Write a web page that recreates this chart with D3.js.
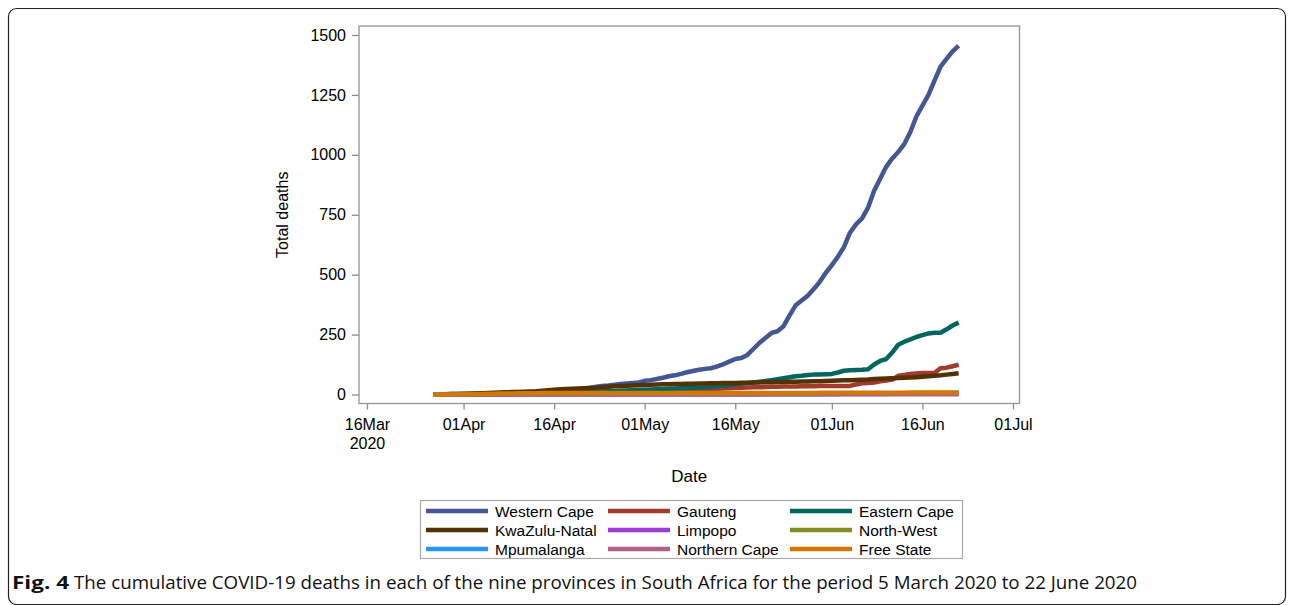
<!DOCTYPE html>
<html>
<head>
<meta charset="utf-8">
<script src="https://cdn.jsdelivr.net/npm/d3@7"></script>
<style>
  body { margin: 0; background: #fff; }
  svg { display: block; }
  .lbl { font-family: "Liberation Sans", Arial, sans-serif; fill: #000; }
  .cap { font-family: "Open Sans", "Noto Sans", sans-serif; fill: #111; }
</style>
</head>
<body>
<svg id="chart" width="1293" height="605"></svg>
<script>
// Daily cumulative deaths per province, 27 Mar 2020 .. 22 Jun 2020
const firstDay = "2020-03-27";
const lastDay = "2020-06-22";

const provinces = ["Western Cape", "Gauteng", "Eastern Cape", "KwaZulu-Natal", "Limpopo",
                   "North-West", "Mpumalanga", "Northern Cape", "Free State"];
const colors = ["#445694", "#A23A2E", "#01665E", "#543005", "#9D3CDB",
                "#7F8E1F", "#2597FA", "#B26084", "#D17800"];

const westernCape = [1,1,1,2,2, 2,3,3,3,4, 5,5,6,7,7, 8,9,10,11,12, 14,16,18,20,22,
  25,28,32,36,38, 41,44,46,48,50, 57,60,65,70,76, 80,86,93,98,103, 107,110,117,126,137,
  148,152,165,190,215, 236,257,264,285,330, 372,392,412,440,470, 508,540,575,615,675,
  710,735,780,850,900, 950,985,1012,1045,1095, 1160,1205,1250,1310,1368, 1400,1432,1455];
const gauteng = [0,0,0,1,1, 1,1,2,2,2, 3,3,3,4,4, 5,5,6,6,7, 7,8,8,9,9, 10,11,12,12,13,
  14,15,15,16,16, 17,17,18,18,19, 19,20,20,21,21, 22,23,24,25,26, 27,28,29,30,30,
  31,32,32,33,33, 33,34,34,34,35, 35,35,35,35,36, 42,47,48,50,55, 58,62,78,82,86,
  88,90,90,90,110, 112,118,124];
const easternCape = [0,0,0,0,0, 0,0,1,1,1, 2,3,3,4,4, 5,6,6,7,7, 8,8,9,10,10, 11,12,12,13,14,
  15,16,17,18,19, 20,21,22,23,24, 25,26,27,28,29, 30,32,34,37,40, 43,45,48,50,53,
  56,60,64,68,72, 76,78,81,83,84, 85,86,92,99,101, 102,103,105,125,140, 148,175,208,220,230,
  240,248,255,258,258, 272,288,300];
const kwaZuluNatal = [1,1,1,2,2, 3,3,4,5,6, 7,8,9,10,11, 12,13,14,16,18, 20,22,23,24,25,
  26,27,28,30,32, 34,35,37,38,39, 40,41,42,43,43, 44,44,45,45,46, 46,47,47,48,48,
  48,49,49,50,50, 51,51,52,52,53, 53,54,54,55,55, 56,57,58,59,60, 61,62,63,65,66,
  67,68,69,70,71, 72,74,76,78,80, 83,86,89];
const limpopo = [0,0,0,0,0, 0,0,0,0,0, 0,1,1,1,2, 2,2,2,2,2, 2,2,2,2,2, 2,2,2,2,2,
  3,3,3,3,3, 3,3,3,3,3, 3,3,3,3,3, 3,3,3,3,3, 4,4,4,4,4, 4,4,4,4,4, 4,4,4,4,4,
  4,4,4,4,4, 4,4,5,5,5, 5,5,5,5,5, 5,6,6,6,6, 6,6,6];
const northWest = [0,0,0,0,0, 0,0,0,0,0, 0,0,0,0,0, 0,0,0,0,0, 0,0,0,0,0, 0,0,0,0,0,
  1,1,1,1,1, 1,1,1,1,1, 1,1,1,1,1, 1,1,1,1,1, 2,2,2,2,2, 2,2,2,2,2, 2,2,2,2,2,
  3,3,3,3,3, 3,3,3,3,3, 3,3,3,3,3, 4,4,4,4,4, 4,4,4];
const mpumalanga = [0,0,0,0,0, 0,0,0,0,0, 0,0,0,0,0, 0,0,0,0,0, 0,0,0,0,0, 0,0,0,0,0,
  0,0,0,0,0, 0,0,0,0,0, 0,0,0,0,0, 0,0,0,0,0, 0,0,0,0,0, 1,1,1,1,1, 1,1,1,1,1,
  1,1,1,2,2, 2,2,2,2,2, 2,3,3,3,3, 3,3,3,3,4, 4,4,4];
const northernCape = [0,0,0,0,0, 0,0,0,0,0, 0,0,0,0,0, 0,0,0,0,0, 0,0,0,0,0, 0,0,0,0,0,
  0,0,0,0,0, 0,0,0,0,0, 0,0,0,0,0, 0,0,0,0,0, 0,0,0,1,1, 1,1,1,1,1, 1,1,1,1,1,
  1,1,1,1,1, 1,1,1,1,1, 1,1,1,1,1, 1,1,1,1,1, 1,1,1];
const freeState = [0,0,0,0,1, 1,1,2,2,3, 3,4,4,4,5, 5,5,5,6,6, 6,6,6,6,6, 6,6,6,6,6,
  6,6,6,6,6, 6,6,6,6,6, 6,6,6,6,6, 6,6,6,6,6, 6,6,6,6,6, 6,6,6,6,6, 6,6,6,6,7,
  7,7,7,7,7, 7,7,7,7,7, 7,7,7,7,8, 8,8,8,8,8, 8,8,8];

const seriesValues = [westernCape, gauteng, easternCape, kwaZuluNatal, limpopo,
                      northWest, mpumalanga, northernCape, freeState];

const yTicks = [0, 250, 500, 750, 1000, 1250, 1500];
const xTickDates = ["2020-03-16", "2020-04-01", "2020-04-16", "2020-05-01",
                    "2020-05-16", "2020-06-01", "2020-06-16", "2020-07-01"];

const parse = d3.utcParse("%Y-%m-%d");
const dates = d3.utcDay.range(parse(firstDay), d3.utcDay.offset(parse(lastDay), 1));

const svg = d3.select("#chart");

// Outer figure border
svg.append("rect")
  .attr("x", 8.5).attr("y", 8.5).attr("width", 1277).attr("height", 596)
  .attr("rx", 8).attr("ry", 8)
  .attr("fill", "none").attr("stroke", "#222").attr("stroke-width", 1.2);

// Plot area
const plotLeft = 359, plotRight = 1019.5, plotTop = 26, plotBottom = 403.5;
const dayMs = 864e5;
const x = d3.scaleUtc()
  .domain([new Date(parse("2020-03-16").getTime() - 1.32 * dayMs),
           new Date(parse("2020-07-01").getTime() + 1.08 * dayMs)])
  .range([plotLeft, plotRight]);
const y = d3.scaleLinear().domain([-37.5, 1537.5]).range([plotBottom, plotTop]);

const fmt = d3.utcFormat("%d%b");

// X axis
const xAxis = svg.append("g")
  .attr("transform", `translate(0,${plotBottom})`)
  .call(d3.axisBottom(x).tickValues(xTickDates.map(parse)).tickSize(6).tickPadding(9)
        .tickFormat(fmt));
xAxis.select(".domain").remove();
xAxis.selectAll(".tick line").attr("stroke", "#8c8c8c").attr("stroke-width", 1.3);
xAxis.selectAll(".tick text").attr("class", "lbl").style("font-size", "16px");
xAxis.select(".tick text").each(function () {
  d3.select(this).append("tspan").attr("x", 0).attr("dy", "1.2em").text("2020");
});

// Y axis
const yAxis = svg.append("g")
  .attr("transform", `translate(${plotLeft},0)`)
  .call(d3.axisLeft(y).tickValues(yTicks).tickSize(7).tickPadding(6)
        .tickFormat(d3.format("d")));
yAxis.select(".domain").remove();
yAxis.selectAll(".tick line").attr("stroke", "#8c8c8c").attr("stroke-width", 1.3);
yAxis.selectAll(".tick text").attr("class", "lbl").style("font-size", "16px");

// Axis titles
svg.append("text").attr("class", "lbl")
  .attr("x", (plotLeft + plotRight) / 2).attr("y", 482)
  .attr("text-anchor", "middle").style("font-size", "17px").text("Date");
svg.append("text").attr("class", "lbl")
  .attr("transform", `translate(288,${(plotTop + plotBottom) / 2}) rotate(-90)`)
  .attr("text-anchor", "middle").style("font-size", "16px").text("Total deaths");

// Series lines
const line = d3.line()
  .x((v, i) => x(dates[i]))
  .y(v => y(v));

svg.append("g").selectAll("path")
  .data(seriesValues)
  .join("path")
  .attr("d", d => line(d))
  .attr("fill", "none")
  .attr("stroke", (d, i) => colors[i])
  .attr("stroke-width", 4.5)
  .attr("stroke-linejoin", "round");

// Plot frame
svg.append("rect")
  .attr("x", plotLeft).attr("y", plotTop)
  .attr("width", plotRight - plotLeft).attr("height", plotBottom - plotTop)
  .attr("fill", "none").attr("stroke", "#9a9a9a").attr("stroke-width", 1.4);

// Legend
const legend = svg.append("g");
legend.append("rect")
  .attr("x", 420.5).attr("y", 500.5).attr("width", 542).attr("height", 58)
  .attr("fill", "none").attr("stroke", "#a8a8a8").attr("stroke-width", 1.2);
const colX = [426, 608, 790];
const rowY = [511, 530, 549];
provinces.forEach((name, i) => {
  const cx = colX[i % 3], cy = rowY[Math.floor(i / 3)];
  legend.append("line")
    .attr("x1", cx).attr("x2", cx + 62).attr("y1", cy).attr("y2", cy)
    .attr("stroke", colors[i]).attr("stroke-width", 4.5);
  legend.append("text").attr("class", "lbl")
    .attr("x", cx + 69).attr("y", cy + 5.5)
    .style("font-size", "15.5px").text(name);
});

// Caption
svg.append("text").attr("class", "cap")
  .attr("x", 12).attr("y", 589)
  .attr("textLength", 57).attr("lengthAdjust", "spacingAndGlyphs")
  .style("font-size", "18px").style("font-weight", "bold").text("Fig. 4");
svg.append("text").attr("class", "cap")
  .attr("x", 74).attr("y", 589)
  .attr("textLength", 1063).attr("lengthAdjust", "spacingAndGlyphs")
  .style("font-size", "18px")
  .text("The cumulative COVID-19 deaths in each of the nine provinces in South Africa for the period 5 March 2020 to 22 June 2020");
</script>
</body>
</html>
